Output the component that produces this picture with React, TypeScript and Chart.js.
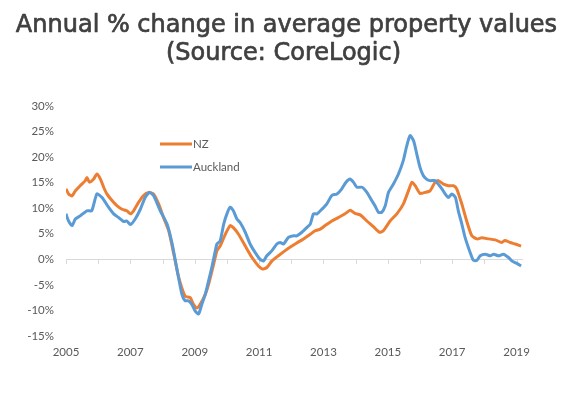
import React, { useEffect, useRef } from "react";
import { Chart, registerables } from "chart.js";

Chart.register(...registerables);

const TITLE_LINES = ["Annual % change in average property values", "(Source: CoreLogic)"];
const SERIES_NAMES = ["NZ", "Auckland"];
const SERIES_COLORS = ["#ED7D31", "#5B9BD5"];
const YEAR_LABELS = [2005, 2007, 2009, 2011, 2013, 2015, 2017, 2019];

const nzDates = [
  2005.0, 2005.08, 2005.19, 2005.29, 2005.44, 2005.6, 2005.65, 2005.73, 2005.86, 2005.96,
  2006.07, 2006.17, 2006.27, 2006.43, 2006.58, 2006.74, 2006.89, 2007.0, 2007.1, 2007.25,
  2007.41, 2007.57, 2007.72, 2007.88, 2008.03, 2008.19, 2008.35, 2008.5, 2008.7, 2008.86,
  2008.96, 2009.07, 2009.17, 2009.33, 2009.43, 2009.59, 2009.69, 2009.79, 2009.95, 2010.1,
  2010.2, 2010.36, 2010.57, 2010.78, 2010.98, 2011.1, 2011.24, 2011.4, 2011.6, 2011.81,
  2011.97, 2012.17, 2012.38, 2012.59, 2012.74, 2012.9, 2013.05, 2013.26, 2013.47, 2013.67,
  2013.83, 2013.98, 2014.14, 2014.35, 2014.55, 2014.74, 2014.86, 2015.07, 2015.28, 2015.48,
  2015.64, 2015.75, 2015.85, 2016.0, 2016.16, 2016.31, 2016.47, 2016.57, 2016.73, 2016.88,
  2017.04, 2017.14, 2017.3, 2017.45, 2017.61, 2017.77, 2017.92, 2018.13, 2018.34, 2018.54,
  2018.64, 2018.8, 2018.96, 2019.14,
];
const nzValues = [
  13.8, 12.8, 12.4, 13.4, 14.4, 15.4, 16.0, 15.1, 15.7, 16.7,
  15.7, 14.1, 12.8, 11.5, 10.5, 9.8, 9.5, 8.9, 9.5, 11.1,
  12.5, 13.1, 12.8, 10.8, 8.2, 5.6, 1.0, -3.5, -7.2, -7.5,
  -8.8, -9.5, -8.8, -6.8, -4.9, -0.9, 1.7, 2.6, 4.9, 6.6,
  6.2, 4.9, 2.6, 0.35, -1.3, -1.9, -1.6, -0.3, 0.7, 1.7,
  2.4, 3.2, 4.0, 4.9, 5.6, 5.9, 6.6, 7.5, 8.2, 8.9,
  9.6, 9.0, 8.7, 7.5, 6.4, 5.3, 5.6, 7.5, 8.9, 10.8,
  13.4, 15.1, 14.4, 12.9, 13.1, 13.4, 15.1, 15.4, 14.7, 14.4,
  14.4, 13.8, 10.8, 7.5, 4.6, 4.0, 4.2, 4.0, 3.8, 3.3,
  3.7, 3.3, 3.0, 2.6,
];

const aklDates = [
  2005.0, 2005.08, 2005.19, 2005.29, 2005.44, 2005.65, 2005.8, 2005.96, 2006.12, 2006.32,
  2006.48, 2006.63, 2006.79, 2006.89, 2007.0, 2007.15, 2007.31, 2007.46, 2007.6, 2007.72,
  2007.93, 2008.14, 2008.3, 2008.42, 2008.6, 2008.7, 2008.8, 2008.91, 2009.01, 2009.12,
  2009.22, 2009.33, 2009.43, 2009.53, 2009.64, 2009.69, 2009.79, 2009.9, 2010.0, 2010.1,
  2010.2, 2010.31, 2010.41, 2010.57, 2010.72, 2010.88, 2011.03, 2011.14, 2011.24, 2011.4,
  2011.55, 2011.66, 2011.76, 2011.91, 2012.07, 2012.17, 2012.33, 2012.48, 2012.59, 2012.69,
  2012.8, 2012.95, 2013.1, 2013.26, 2013.42, 2013.57, 2013.7, 2013.83, 2013.93, 2014.04,
  2014.2, 2014.35, 2014.5, 2014.6, 2014.71, 2014.81, 2014.92, 2015.02, 2015.17, 2015.33,
  2015.48, 2015.58, 2015.69, 2015.8, 2015.9, 2016.0, 2016.1, 2016.2, 2016.31, 2016.47,
  2016.57, 2016.68, 2016.78, 2016.88, 2016.99, 2017.1, 2017.19, 2017.3, 2017.4, 2017.56,
  2017.66, 2017.77, 2017.87, 2018.03, 2018.18, 2018.29, 2018.44, 2018.59, 2018.75, 2018.85,
  2019.01, 2019.14,
];
const aklValues = [
  8.9, 7.5, 6.6, 7.9, 8.5, 9.5, 9.5, 12.8, 12.1, 10.2,
  8.9, 8.2, 7.4, 7.5, 6.8, 7.9, 9.8, 12.1, 13.1, 12.5,
  9.5, 6.9, 3.0, -1.0, -6.8, -8.1, -8.1, -8.8, -10.1, -10.7,
  -8.8, -6.8, -4.2, -1.6, 1.7, 3.0, 3.6, 6.9, 8.9, 10.2,
  9.5, 7.9, 7.2, 5.3, 3.0, 1.3, 0.0, -0.3, 0.7, 1.7,
  3.0, 3.3, 3.0, 4.3, 4.6, 4.6, 5.3, 6.2, 6.9, 8.9,
  8.9, 9.8, 10.8, 12.5, 12.8, 13.8, 15.1, 15.7, 15.1, 14.1,
  14.1, 13.1, 11.5, 10.5, 9.2, 9.2, 10.5, 13.1, 14.7, 16.7,
  19.3, 22.0, 24.2, 23.2, 20.6, 18.0, 16.4, 15.7, 15.4, 15.4,
  14.7, 13.8, 12.8, 12.1, 12.8, 12.1, 9.5, 6.9, 4.3, 1.3,
  -0.2, -0.2, 0.7, 1.0, 0.7, 1.0, 0.7, 1.0, 0.35, -0.3,
  -0.8, -1.3,
];

const toPoints = (xs: number[], ys: number[]) => xs.map((x, i) => ({ x, y: ys[i] }));

export default function App() {
  const ref = useRef<HTMLCanvasElement>(null);

  useEffect(() => {
    document.body.style.margin = "0";
    const canvas = ref.current;
    if (!canvas) return;

    const decorations = {
      id: "decorations",
      beforeDatasetsDraw(chart: any) {
        const { ctx, chartArea, scales } = chart;
        const y0 = scales.y.getPixelForValue(0);
        ctx.save();
        ctx.strokeStyle = "#D9D9D9";
        ctx.lineWidth = 1;
        ctx.beginPath();
        ctx.moveTo(chartArea.left, Math.round(y0) + 0.5);
        ctx.lineTo(chartArea.right, Math.round(y0) + 0.5);
        const minY = Math.ceil(scales.x.min);
        for (let yr = minY; yr <= scales.x.max; yr++) {
          const px = Math.round(scales.x.getPixelForValue(yr)) + 0.5;
          ctx.moveTo(px, Math.round(y0));
          ctx.lineTo(px, Math.round(y0) + 5);
        }
        ctx.stroke();
        ctx.restore();
      },
      afterDraw(chart: any) {
        const { ctx, chartArea, width } = chart;
        ctx.save();
        // title
        ctx.fillStyle = "#404040";
        ctx.strokeStyle = "#404040";
        ctx.lineWidth = 0.7;
        ctx.lineJoin = "round";
        ctx.textAlign = "center";
        ctx.textBaseline = "alphabetic";
        ctx.font = "24px 'DejaVu Sans'";
        ctx.fillText(TITLE_LINES[0], width / 2, 32);
        ctx.strokeText(TITLE_LINES[0], width / 2, 32);
        ctx.fillText(TITLE_LINES[1], width / 2 - 3, 60);
        ctx.strokeText(TITLE_LINES[1], width / 2 - 3, 60);
        // legend
        ctx.font = "11.5px Lato";
        ctx.textAlign = "left";
        ctx.textBaseline = "middle";
        SERIES_NAMES.forEach((name, i) => {
          const y = chartArea.top + 38 + i * 23;
          const x = chartArea.left + 94;
          ctx.strokeStyle = SERIES_COLORS[i];
          ctx.lineWidth = 3;
          ctx.beginPath();
          ctx.moveTo(x, y);
          ctx.lineTo(x + 32, y);
          ctx.stroke();
          ctx.fillStyle = "#595959";
          ctx.fillText(name, x + 33, y);
        });
        ctx.restore();
      },
    };

    const chart = new Chart(canvas, {
      type: "line",
      data: {
        datasets: [
          {
            label: SERIES_NAMES[0],
            data: toPoints(nzDates, nzValues),
            borderColor: SERIES_COLORS[0],
            backgroundColor: SERIES_COLORS[0],
            borderWidth: 3,
            pointRadius: 0,
            tension: 0.2,
            order: 1,
          },
          {
            label: SERIES_NAMES[1],
            data: toPoints(aklDates, aklValues),
            borderColor: SERIES_COLORS[1],
            backgroundColor: SERIES_COLORS[1],
            borderWidth: 3,
            pointRadius: 0,
            tension: 0.2,
            order: 0,
          },
        ],
      },
      options: {
        animation: false,
        responsive: false,
        layout: { padding: { top: 106, right: 50, left: 0, bottom: 0 } },
        plugins: { legend: { display: false }, tooltip: { enabled: false }, title: { display: false } },
        scales: {
          x: {
            type: "linear",
            min: 2005,
            max: 2019.2,
            grid: { display: false, drawTicks: false },
            border: { display: false },
            afterBuildTicks: (scale: any) => {
              scale.ticks = YEAR_LABELS.map((v) => ({ value: v }));
            },
            afterFit: (scale: any) => {
              scale.height = 59;
            },
            ticks: {
              autoSkip: false,
              maxRotation: 0,
              padding: 9,
              color: "#595959",
              font: { family: "Lato", size: 11.5 },
              callback: (v: any) => String(v),
            },
          },
          y: {
            min: -15,
            max: 30,
            grid: { display: false, drawTicks: false },
            border: { display: false },
            afterFit: (scale: any) => {
              scale.width = 66;
            },
            ticks: {
              stepSize: 5,
              padding: 12,
              color: "#595959",
              font: { family: "Lato", size: 11.5 },
              callback: (v: any) => `${v}%`,
            },
          },
        },
      },
      plugins: [decorations],
    });

    return () => chart.destroy();
  }, []);

  return (
    <div style={{ width: 573, height: 395, background: "#fff" }}>
      <canvas ref={ref} width={573} height={395} style={{ display: "block" }} />
    </div>
  );
}
